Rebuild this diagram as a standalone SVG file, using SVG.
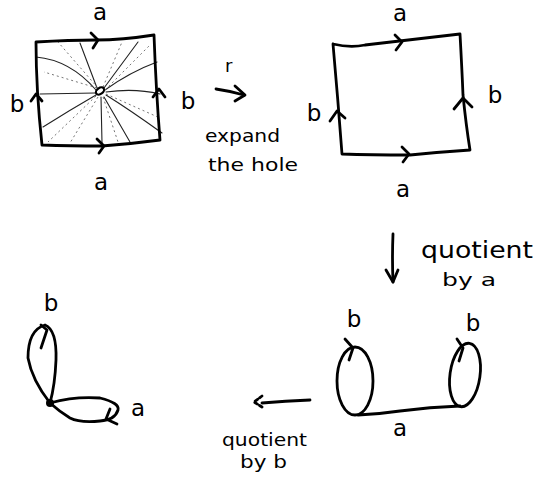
<svg xmlns="http://www.w3.org/2000/svg" width="536" height="486" viewBox="0 0 536 486">
<style>
.ink{fill:none;stroke:#000;stroke-width:2.8;stroke-linecap:round;stroke-linejoin:round}
.thin{fill:none;stroke:#222;stroke-width:1.1;stroke-linecap:round}
.dash{fill:none;stroke:#666;stroke-width:0.9;stroke-dasharray:2 3}
.lbl{font-family:"DejaVu Sans",sans-serif;font-size:23px;fill:#000}
.txt{font-family:"DejaVu Sans",sans-serif;font-size:18px;fill:#000}
</style>
<rect width="536" height="486" fill="#fff"/>

<g id="square-with-hole">
  <g class="thin">
    <path d="M96,90 Q70,60 36,57"/>
    <path d="M97,88 L80,43"/>
    <path d="M104,88 L138,42"/>
    <path d="M105,90 Q130,72 157,62"/>
    <path d="M106,92 Q135,88 160,94"/>
    <path d="M106,95 Q130,110 162,133"/>
    <path d="M104,97 L130,142"/>
    <path d="M101,97 L102,143"/>
    <path d="M96,95 Q70,110 43,127"/>
    <path d="M95,93 L40,94"/>
  </g>
  <g class="dash">
    <path d="M97,88 L44,72"/>
    <path d="M98,88 L58,42"/>
    <path d="M103,87 L122,42"/>
    <path d="M105,90 L150,45"/>
    <path d="M106,94 L160,118"/>
    <path d="M103,97 L118,142"/>
    <path d="M98,97 L70,143"/>
    <path d="M96,96 L48,142"/>
  </g>
  <path class="ink" d="M36,42 Q70,40 96,40 T154,35 Q156,90 160,140 Q130,144 102,146 Q70,146 42,145 Q36,90 36,42"/>
  <ellipse cx="100" cy="91" rx="4.5" ry="3" transform="rotate(-35 100 91)" fill="#fff" stroke="#000" stroke-width="2.2"/>
  <path class="ink" d="M91,33 L98,40 L93,48"/>
  <path class="ink" d="M97,139 L104,146 L99,153"/>
  <path class="ink" d="M31,101 L36,94 L42,101"/>
  <path class="ink" d="M153,97 L159,89 L165,97"/>
  <text class="lbl" x="100" y="20" text-anchor="middle">a</text>
  <text class="lbl" x="101" y="190" text-anchor="middle">a</text>
  <text class="lbl" x="17" y="112" text-anchor="middle">b</text>
  <text class="lbl" x="188" y="109" text-anchor="middle">b</text>
</g>

<g id="square">
  <path class="ink" d="M333,44 Q350,48 365,45 Q410,40 460,34 Q462,70 463,95 Q466,125 470,150 Q440,152 410,155 Q370,155 342,154 Q338,100 333,44"/>
  <path class="ink" d="M395,35 L402,42 L396,50"/>
  <path class="ink" d="M402,147 L409,154 L403,162"/>
  <path class="ink" d="M330,121 L337,111 L345,118"/>
  <path class="ink" d="M454,109 L463,98 L472,107"/>
  <text class="lbl" x="400" y="21" text-anchor="middle">a</text>
  <text class="lbl" x="403" y="197" text-anchor="middle">a</text>
  <text class="lbl" x="314" y="121" text-anchor="middle">b</text>
  <text class="lbl" x="495" y="103" text-anchor="middle">b</text>
</g>

<g id="two-circles">
  <ellipse class="ink" cx="355" cy="381" rx="18" ry="34"/>
  <ellipse class="ink" cx="465" cy="375" rx="15" ry="32" transform="rotate(8 465 375)"/>
  <path class="ink" d="M358,415 Q380,414 400,411 Q430,407 460,406"/>
  <path class="ink" d="M345,339 L353,348 L349,360"/>
  <path class="ink" d="M457,339 L463,348 L459,361"/>
  <text class="lbl" x="354" y="327" text-anchor="middle">b</text>
  <text class="lbl" x="473" y="331" text-anchor="middle">b</text>
  <text class="lbl" x="400" y="436" text-anchor="middle">a</text>
</g>

<g id="wedge">
  <circle cx="50" cy="403" r="4" fill="#000"/>
  <path class="ink" d="M50,403 Q32,380 28,358 Q28,330 45,325 Q57,330 56,360 Q55,385 50,403"/>
  <path class="ink" d="M50,403 Q75,396 100,398 Q120,403 118,410 Q115,420 100,421 Q80,423 70,418 Q60,412 50,403"/>
  <path class="ink" d="M41,325 L47,330 L41,348"/>
  <path class="ink" d="M110,409 L106,419 L117,424"/>
  <text class="lbl" x="51" y="311" text-anchor="middle">b</text>
  <text class="lbl" x="138" y="416" text-anchor="middle">a</text>
</g>

<g id="connectors">
  <path class="ink" d="M216,89 Q230,91 244,95"/>
  <path class="ink" d="M235,86 L245,95 L235,101"/>
  <path class="ink" d="M393,234 Q392,258 393,282"/>
  <path class="ink" d="M386,270 L393,282 L398,270"/>
  <path class="ink" d="M310,400 Q285,401 262,403"/>
  <path class="ink" d="M262,396 L254,402 L262,407" stroke-dasharray="3 2.5"/>
  <text class="txt" x="225" y="72">r</text>
  <text class="txt" x="205" y="142" textLength="75" lengthAdjust="spacingAndGlyphs">expand</text>
  <text class="txt" x="208" y="171" textLength="90" lengthAdjust="spacingAndGlyphs">the hole</text>
  <text class="lbl" x="421" y="258" textLength="112" lengthAdjust="spacingAndGlyphs">quotient</text>
  <text class="txt" x="442" y="286" textLength="54" lengthAdjust="spacingAndGlyphs">by a</text>
  <text class="txt" x="222" y="446" textLength="85" lengthAdjust="spacingAndGlyphs">quotient</text>
  <text class="txt" x="240" y="468" textLength="47" lengthAdjust="spacingAndGlyphs">by b</text>
</g>
</svg>
